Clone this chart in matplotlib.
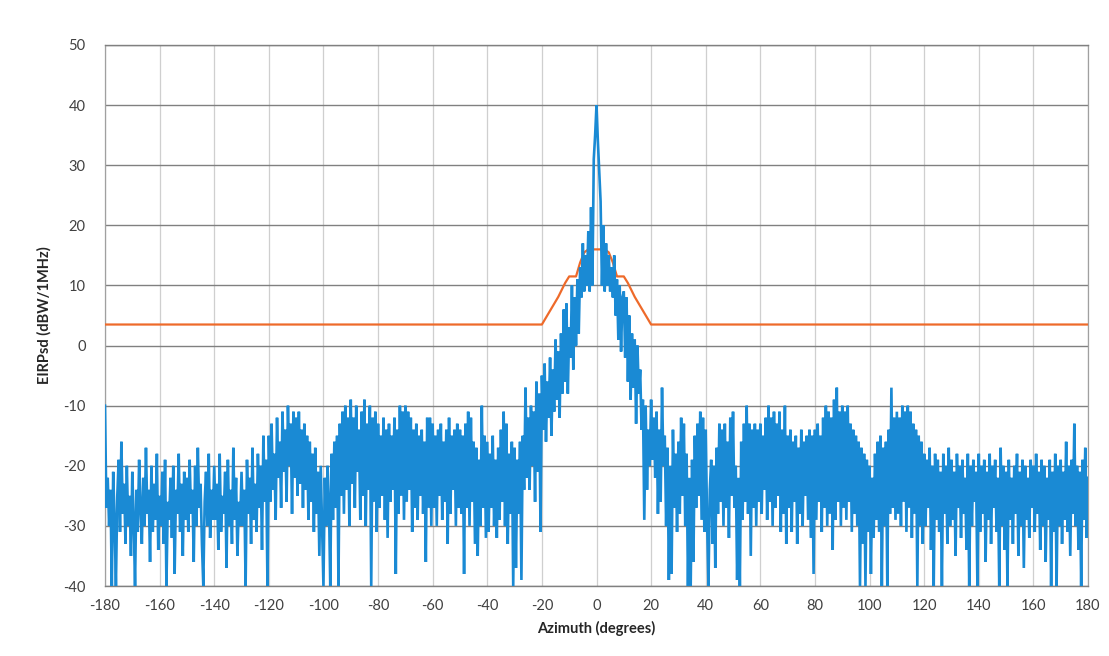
import numpy as np
import matplotlib
matplotlib.use("Agg")
import matplotlib.pyplot as plt

# ---------------- data ----------------
step_deg = 0.5
eirp_rows = [
    [-10, -27, -22, -30, -24, -40, -21, -29, -40, -25, -19, -31, -16, -28, -23, -33, -20, -30, -25, -35],  # -180
    [-21, -29, -40, -24, -31, -19, -27, -33, -22, -30, -17, -28, -24, -36, -20, -31, -23, -29, -18, -34],  # -170
    [-25, -30, -21, -33, -19, -40, -26, -29, -22, -32, -20, -38, -24, -28, -18, -31, -23, -35, -21, -29],  # -160
    [-22, -31, -19, -28, -24, -36, -20, -30, -17, -27, -23, -33, -40, -26, -21, -30, -18, -32, -24, -29],  # -150
    [-20, -29, -23, -34, -18, -31, -25, -28, -21, -37, -19, -30, -24, -33, -17, -29, -22, -35, -26, -30],  # -140
    [-21, -30, -24, -40, -19, -28, -22, -33, -17, -29, -23, -31, -18, -27, -20, -34, -15, -26, -19, -40],  # -130
    [-15, -26, -13, -24, -18, -29, -12, -22, -16, -27, -11, -21, -14, -26, -10, -20, -13, -28, -11, -22],  # -120
    [-12, -25, -11, -23, -14, -27, -13, -24, -15, -29, -16, -26, -18, -31, -17, -28, -21, -35, -20, -30],  # -110
    [-40, -22, -30, -20, -26, -40, -18, -29, -16, -27, -15, -40, -13, -25, -11, -28, -10, -24, -12, -30],  # -100
    [-9, -23, -12, -27, -10, -21, -14, -29, -11, -25, -9, -30, -13, -24, -10, -40, -12, -26, -11, -31],    # -90
    [-13, -27, -15, -25, -12, -29, -14, -32, -13, -26, -15, -24, -12, -38, -14, -28, -10, -25, -11, -29],  # -80
    [-10, -26, -11, -24, -12, -31, -14, -27, -13, -29, -15, -25, -14, -28, -16, -36, -12, -27, -12, -30],  # -70
    [-13, -27, -15, -30, -14, -25, -13, -29, -16, -26, -14, -33, -12, -28, -15, -24, -14, -30, -13, -27],  # -60
    [-14, -28, -15, -38, -13, -27, -11, -30, -12, -26, -16, -33, -17, -35, -19, -30, -10, -27, -15, -32],  # -50
    [-16, -31, -18, -27, -15, -30, -19, -32, -17, -29, -14, -26, -11, -30, -13, -33, -18, -28, -16, -40],  # -40
    [-17, -37, -19, -28, -16, -39, -15, -24, -7, -22, -12, -24, -10, -20, -11, -26, -6, -21, -8, -31],     # -30
    [-5, -14, -3, -16, -6, -12, -2, -15, -4, -11, 1, -9, -1, -12, 2, -8, 6, -6, 7, -8],                    # -20
    [3, -2, 10, -4, 8, 0, 11, 2, 13, 8, 17, 9, 15, 10, 19, 9, 23, 10, 31, 35],                              # -10
    [40, 34, 29, 24, 10, 20, 9, 17, 10, 15, 9, 13, 8, 15, 5, 11, 1, 10, -1, 8],                             # 0
    [9, -2, 8, -6, 5, -9, 2, -7, 1, -13, 0, -8, -4, -14, -9, -29, -10, -24, -14, -20],                      # 10
    [-9, -19, -12, -22, -11, -28, -14, -26, -7, -20, -15, -30, -17, -39, -20, -38, -14, -27, -18, -31],     # 20
    [-16, -28, -12, -25, -13, -30, -18, -40, -22, -40, -19, -36, -15, -27, -13, -25, -11, -29, -12, -31],  # 30
    [-14, -29, -40, -24, -19, -33, -20, -37, -17, -28, -13, -26, -14, -30, -13, -27, -16, -32, -12, -25],  # 40
    [-11, -27, -20, -39, -22, -40, -16, -29, -13, -26, -10, -28, -13, -35, -14, -27, -13, -30, -14, -26],  # 50
    [-13, -28, -15, -24, -12, -29, -10, -26, -12, -30, -11, -27, -13, -25, -11, -31, -14, -28, -10, -33],  # 60
    [-15, -27, -14, -31, -16, -26, -15, -33, -17, -28, -14, -30, -16, -25, -15, -29, -14, -32, -15, -38],  # 70
    [-14, -29, -13, -26, -15, -31, -12, -27, -10, -30, -11, -28, -12, -34, -9, -29, -7, -26, -11, -30],    # 80
    [-10, -27, -11, -29, -10, -26, -13, -31, -14, -28, -15, -30, -16, -40, -17, -33, -18, -40, -19, -31],  # 90
    [-20, -38, -22, -32, -18, -29, -16, -31, -15, -40, -17, -30, -16, -40, -14, -28, -7, -27, -12, -29],   # 100
    [-11, -28, -12, -30, -10, -26, -11, -31, -10, -27, -11, -32, -13, -28, -14, -40, -15, -30, -16, -33],  # 110
    [-18, -30, -19, -27, -17, -34, -20, -40, -18, -29, -19, -31, -21, -40, -18, -28, -20, -33, -17, -30],  # 120
    [-19, -29, -21, -35, -18, -27, -20, -32, -19, -28, -22, -34, -18, -40, -20, -30, -19, -26, -21, -40],  # 130
    [-18, -31, -20, -28, -19, -36, -21, -29, -18, -33, -20, -27, -19, -31, -22, -40, -17, -30, -20, -34],  # 140
    [-21, -40, -19, -29, -22, -33, -20, -28, -18, -35, -21, -30, -19, -37, -20, -29, -22, -32, -19, -27],  # 150
    [-20, -31, -18, -28, -21, -34, -19, -30, -20, -36, -22, -29, -19, -40, -21, -31, -18, -40, -20, -30],  # 160
    [-19, -33, -21, -29, -16, -31, -20, -35, -19, -28, -13, -30, -20, -34, -21, -40, -19, -29, -17, -32, -22],  # 170..180
]
eirp_values = np.concatenate([np.array(r, dtype=float) for r in eirp_rows])
azimuth = -180 + step_deg * np.arange(len(eirp_values))

mask_angles = [-180, -20, -17, -14, -11.5, -10, -7.5, -6, -4.5, -3, 3, 4.5, 6, 7.5, 10, 11.5, 14, 17, 20, 180]
mask_levels = [3.5, 3.5, 5.8, 8.1, 10.4, 11.5, 11.5, 13.8, 15.5, 16.0, 16.0, 15.5, 13.8, 11.5, 11.5, 10.4, 8.1, 5.8, 3.5, 3.5]

x_ticks = list(range(-180, 181, 20))
y_ticks = list(range(-40, 51, 10))
x_label = "Azimuth (degrees)"
y_label = "EIRPsd (dBW/1MHz)"

# ---------------- figure ----------------
plt.rcParams['font.family'] = ['Lato', 'DejaVu Sans']
plt.rcParams['axes.unicode_minus'] = False
fig = plt.figure(figsize=(11.09, 6.56), dpi=100)
ax = fig.add_axes([105 / 1109, (656 - 586) / 656, (1088 - 105) / 1109, (586 - 45) / 656])

ax.plot(mask_angles, mask_levels, color='#ee6a2a', lw=1.6, zorder=3)
ax.plot(azimuth, eirp_values, color='#1a8ad4', lw=1.9, zorder=4, solid_joinstyle='miter')

ax.set_xlim(-180, 180)
ax.set_ylim(-40, 50)
ax.set_xticks(x_ticks)
ax.set_yticks(y_ticks)
ax.tick_params(axis='both', length=0, labelsize=10.5, colors='#404040')
ax.tick_params(axis='x', pad=9)
ax.tick_params(axis='y', pad=14)

ax.grid(axis='y', color='#808080', lw=1.0, zorder=1)
ax.grid(axis='x', color='#cfcfcf', lw=0.9, zorder=1)
ax.set_axisbelow(True)

for side in ['top', 'bottom']:
    ax.spines[side].set_color('#808080')
    ax.spines[side].set_linewidth(1.0)
for side in ['left', 'right']:
    ax.spines[side].set_color('#a0a0a0')
    ax.spines[side].set_linewidth(0.9)

ax.set_xlabel(x_label, fontsize=10.5, fontweight='bold', color='#262626', labelpad=6)
ax.set_ylabel(y_label, fontsize=10.5, fontweight='bold', color='#262626', labelpad=8)

fig.savefig("out.png", dpi=100)
